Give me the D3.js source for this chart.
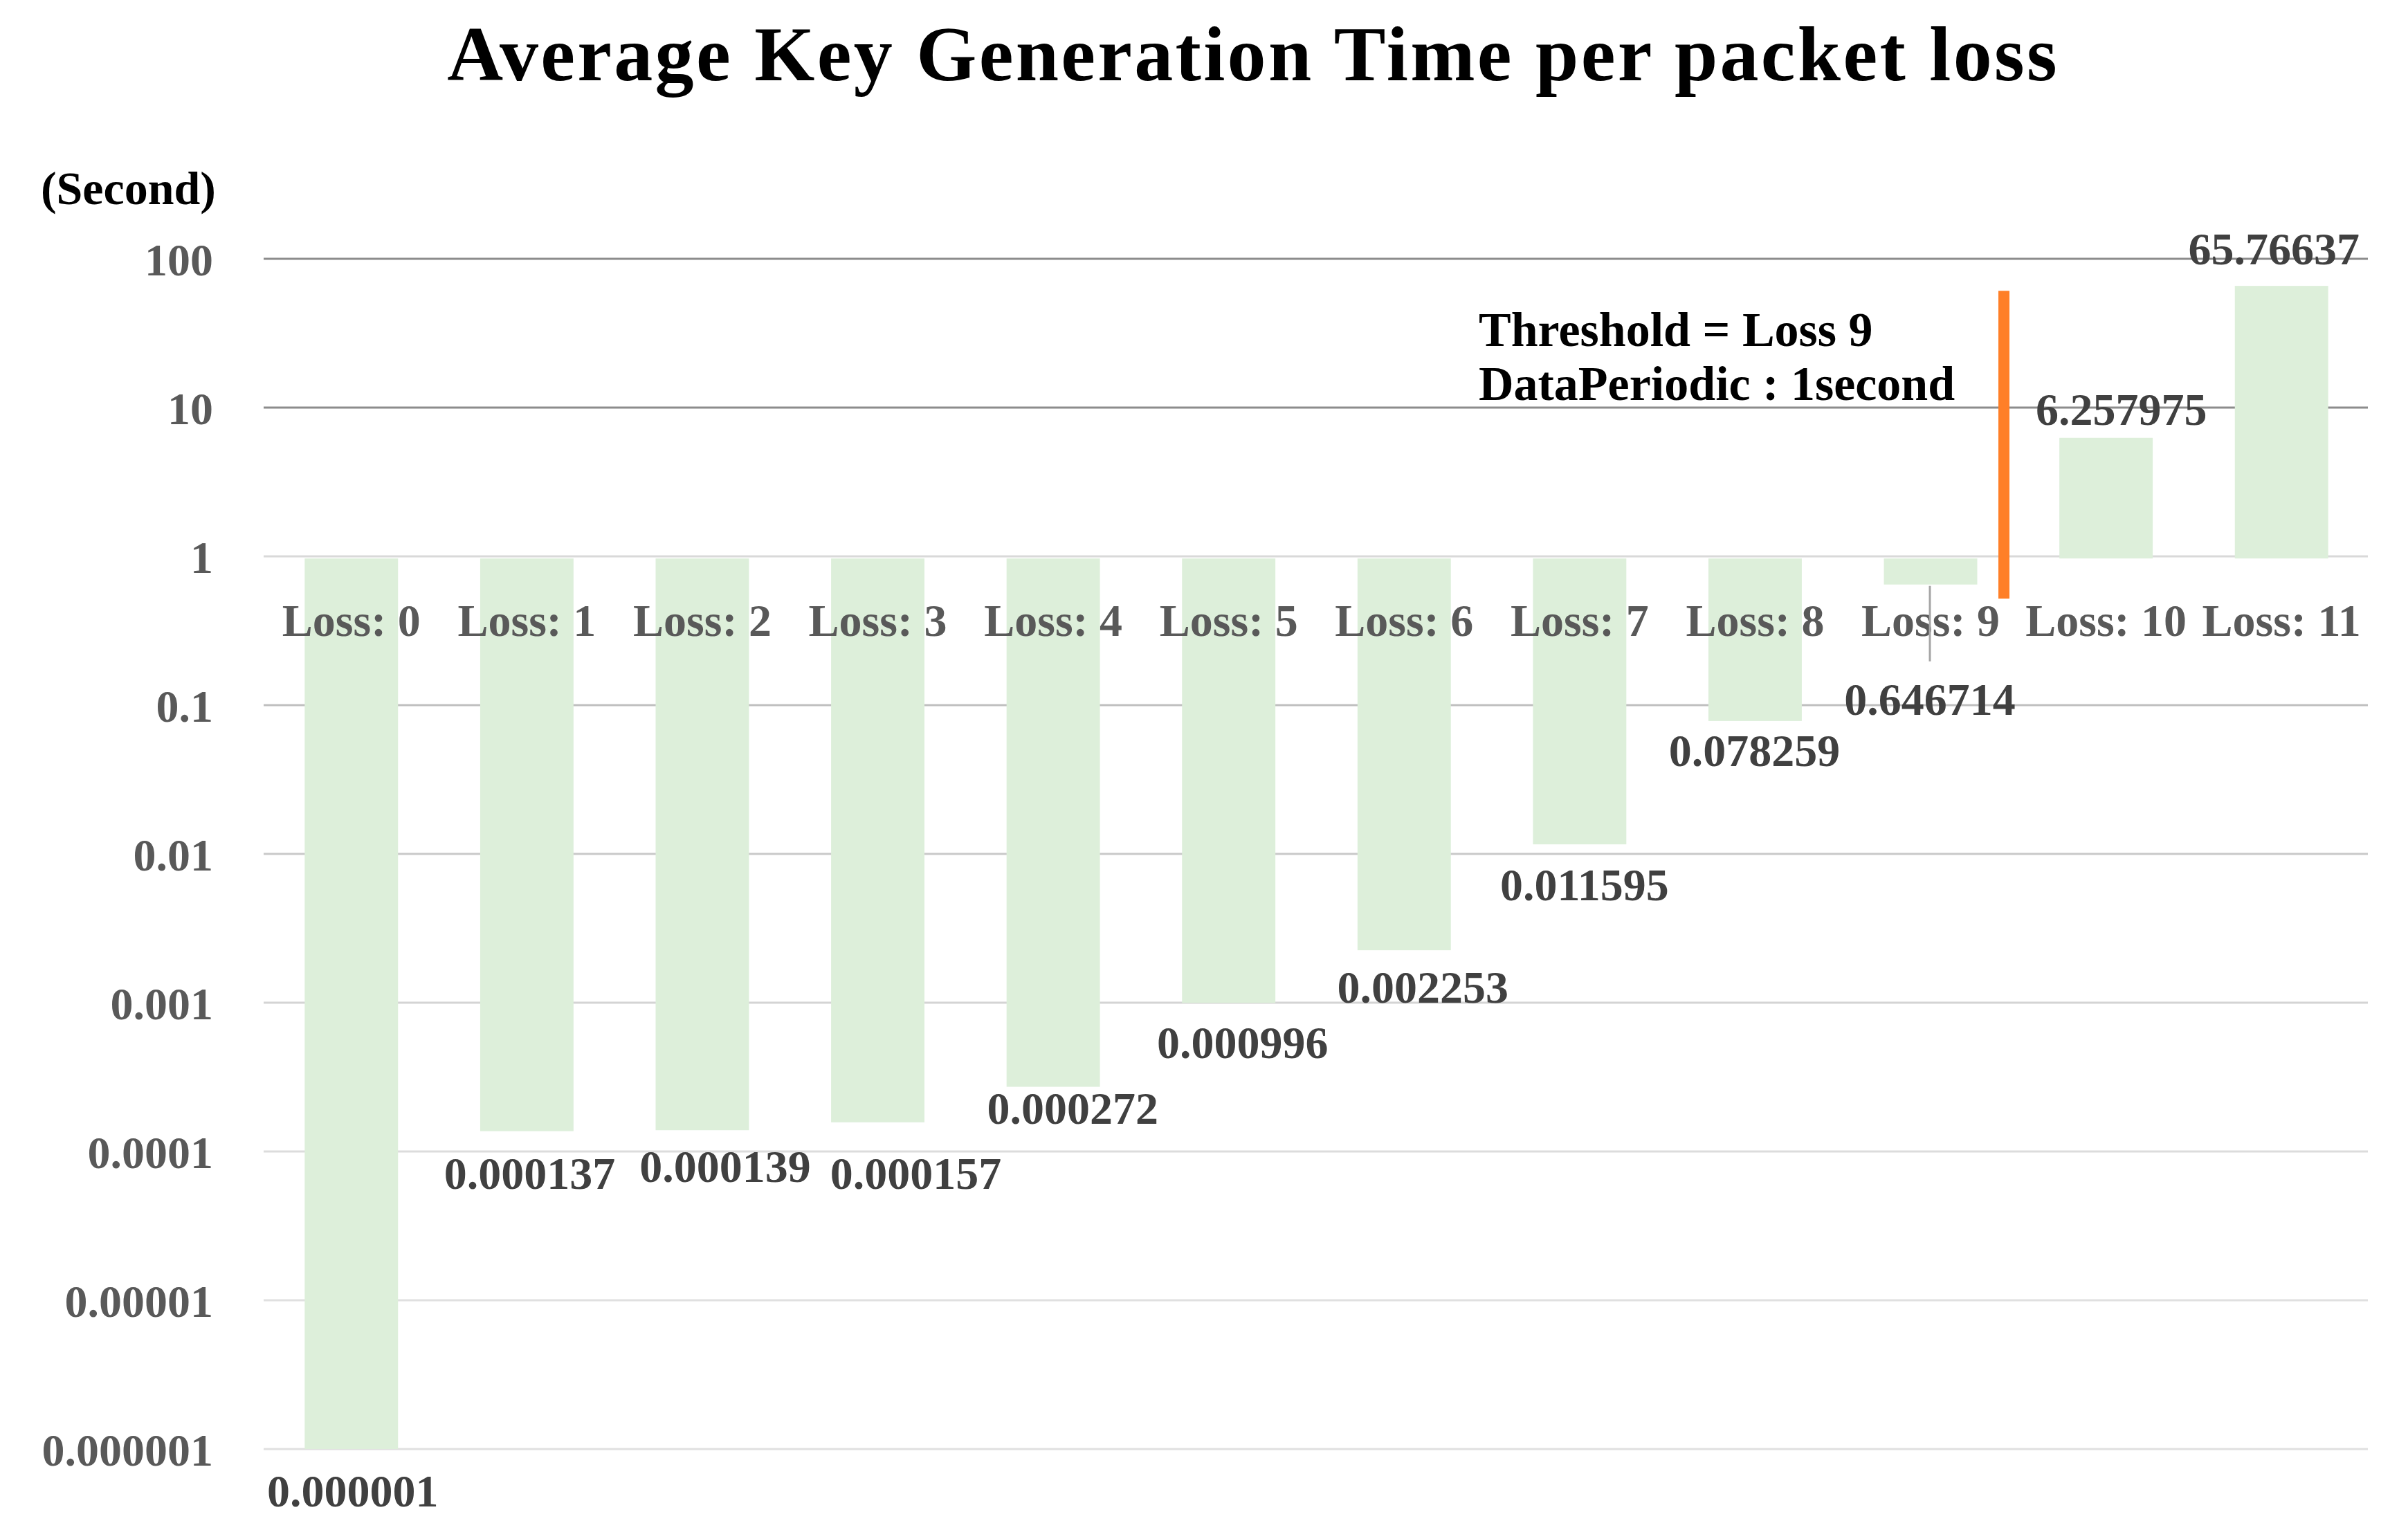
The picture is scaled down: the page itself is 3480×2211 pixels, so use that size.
<!DOCTYPE html>
<html>
<head>
<meta charset="utf-8">
<title>Average Key Generation Time per packet loss</title>
<script src="https://cdn.jsdelivr.net/npm/d3@7"></script>
<style>
  html, body { margin: 0; padding: 0; background: #ffffff; }
  svg text { font-family: "Palatino Linotype", "Book Antiqua", Palatino, "Liberation Serif", serif; font-weight: bold; }
</style>
</head>
<body>
<div id="chart"></div>
<script>
// ========================== DATA ====================================

const categories = [
  "Loss: 0", "Loss: 1", "Loss: 2", "Loss: 3", "Loss: 4", "Loss: 5",
  "Loss: 6", "Loss: 7", "Loss: 8", "Loss: 9", "Loss: 10", "Loss: 11"
];

// average key generation time (seconds)
const keyGenTime = [
  0.000001, 0.000137, 0.000139, 0.000157, 0.000272, 0.000996,
  0.002253, 0.011595, 0.078259, 0.646714, 6.257975, 65.76637
];

const labelTexts = [
  "0.000001", "0.000137", "0.000139", "0.000157", "0.000272", "0.000996",
  "0.002253", "0.011595", "0.078259", "0.646714", "6.257975", "65.76637"
];

const yTicks = [100, 10, 1, 0.1, 0.01, 0.001, 0.0001, 0.00001, 0.000001];
const yTickLabels = ["100", "10", "1", "0.1", "0.01", "0.001", "0.0001", "0.00001", "0.000001"];

const titleText = "Average Key Generation Time per packet loss";
const unitText = "(Second)";
const noteLines = ["Threshold = Loss 9", "DataPeriodic : 1second"];
const thresholdCategory = "Loss: 9";
const thresholdSpan = [0.52, 61];   // vertical extent of the threshold marker (data units)

// ========================== LAYOUT ==================================

const W = 3480, H = 2211;
const plot = { left: 381, right: 3424, top: 374, bottom: 2094 };

// hand-moved data labels (px offset of label centre from bar end)
const labelNudge = [
  [2, 61], [4, 62], [33, 53], [55, 74], [28, 32], [20, 58],
  [27, 54], [7, 59], [-1, 43], [-1, 167], [22, -41], [-11, -53]
];

// gridline colours from top (100) to bottom (0.000001)
const gridColors = ["#8c8c8c", "#8c8c8c", "#d9d9d9", "#bfbfbf", "#c9c9c9",
                    "#d4d4d4", "#dcdcdc", "#e0e0e0", "#e0e0e0"];

const barColor = "#ddefda";
const thresholdColor = "#ff7f27";

// ========================== SCALES ==================================

const x = d3.scaleBand()
  .domain(categories)
  .range([plot.left, plot.right])
  .paddingInner(0.468)
  .paddingOuter(0.234);

const y = d3.scaleLog()
  .domain([0.000001, 100])
  .range([plot.bottom, plot.top]);

const base = y(1);

// ========================== SVG =====================================

const svg = d3.select("#chart").append("svg")
  .attr("width", W)
  .attr("height", H)
  .attr("viewBox", `0 0 ${W} ${H}`);

svg.append("rect").attr("width", W).attr("height", H).attr("fill", "#ffffff");

// title
svg.append("text")
  .attr("x", 1811)
  .attr("y", 116)
  .attr("text-anchor", "middle")
  .attr("font-size", 112)
  .attr("letter-spacing", 3.3)
  .attr("fill", "#000000")
  .text(titleText);

// unit label
svg.append("text")
  .attr("x", 312)
  .attr("y", 295)
  .attr("text-anchor", "end")
  .attr("font-size", 68)
  .attr("fill", "#000000")
  .text(unitText);

// ========================== GRID + Y AXIS ===========================

svg.append("g")
  .selectAll("line")
  .data(yTicks)
  .join("line")
  .attr("x1", plot.left)
  .attr("x2", 3422)
  .attr("y1", d => y(d))
  .attr("y2", d => y(d))
  .attr("stroke", (d, i) => gridColors[i])
  .attr("stroke-width", 3);

svg.append("g")
  .selectAll("text")
  .data(yTicks)
  .join("text")
  .attr("x", 308)
  .attr("y", d => y(d))
  .attr("dy", "0.36em")
  .attr("text-anchor", "end")
  .attr("font-size", 66)
  .attr("fill", "#595959")
  .text((d, i) => yTickLabels[i]);

// ========================== BARS ====================================

svg.append("g")
  .selectAll("rect")
  .data(keyGenTime)
  .join("rect")
  .attr("x", (d, i) => x(categories[i]))
  .attr("width", x.bandwidth())
  .attr("y", d => Math.min(y(d), base + 3))
  .attr("height", d => Math.abs(y(d) - (base + 3)))
  .attr("fill", barColor);

// category labels sit just under the value-1 axis line
svg.append("g")
  .selectAll("text")
  .data(categories)
  .join("text")
  .attr("x", d => x(d) + x.bandwidth() / 2)
  .attr("y", base + 115)
  .attr("text-anchor", "middle")
  .attr("font-size", 66)
  .attr("fill", "#595959")
  .text(d => d);

// leader line for the moved Loss 9 label
const leadIdx = categories.indexOf("Loss: 9");
svg.append("line")
  .attr("x1", x(categories[leadIdx]) + x.bandwidth() / 2 - 1)
  .attr("x2", x(categories[leadIdx]) + x.bandwidth() / 2 - 1)
  .attr("y1", y(keyGenTime[leadIdx]) + 2)
  .attr("y2", y(keyGenTime[leadIdx]) + labelNudge[leadIdx][1] - 56)
  .attr("stroke", "#a6a6a6")
  .attr("stroke-width", 3);

// data labels
svg.append("g")
  .selectAll("text")
  .data(keyGenTime)
  .join("text")
  .attr("x", (d, i) => x(categories[i]) + x.bandwidth() / 2 + labelNudge[i][0])
  .attr("y", (d, i) => y(d) + labelNudge[i][1])
  .attr("dy", "0.33em")
  .attr("text-anchor", "middle")
  .attr("font-size", 66)
  .attr("fill", "#404040")
  .text((d, i) => labelTexts[i]);

// ========================== THRESHOLD ===============================

const thX = x(thresholdCategory) + x.step() * 0.684;

svg.append("line")
  .attr("x1", thX)
  .attr("x2", thX)
  .attr("y1", y(thresholdSpan[1]))
  .attr("y2", y(thresholdSpan[0]))
  .attr("stroke", thresholdColor)
  .attr("stroke-width", 16);

svg.append("g")
  .selectAll("text")
  .data(noteLines)
  .join("text")
  .attr("x", 2137)
  .attr("y", (d, i) => 500 + i * 78)
  .attr("font-size", 70)
  .attr("fill", "#000000")
  .text(d => d);
</script>
</body>
</html>
